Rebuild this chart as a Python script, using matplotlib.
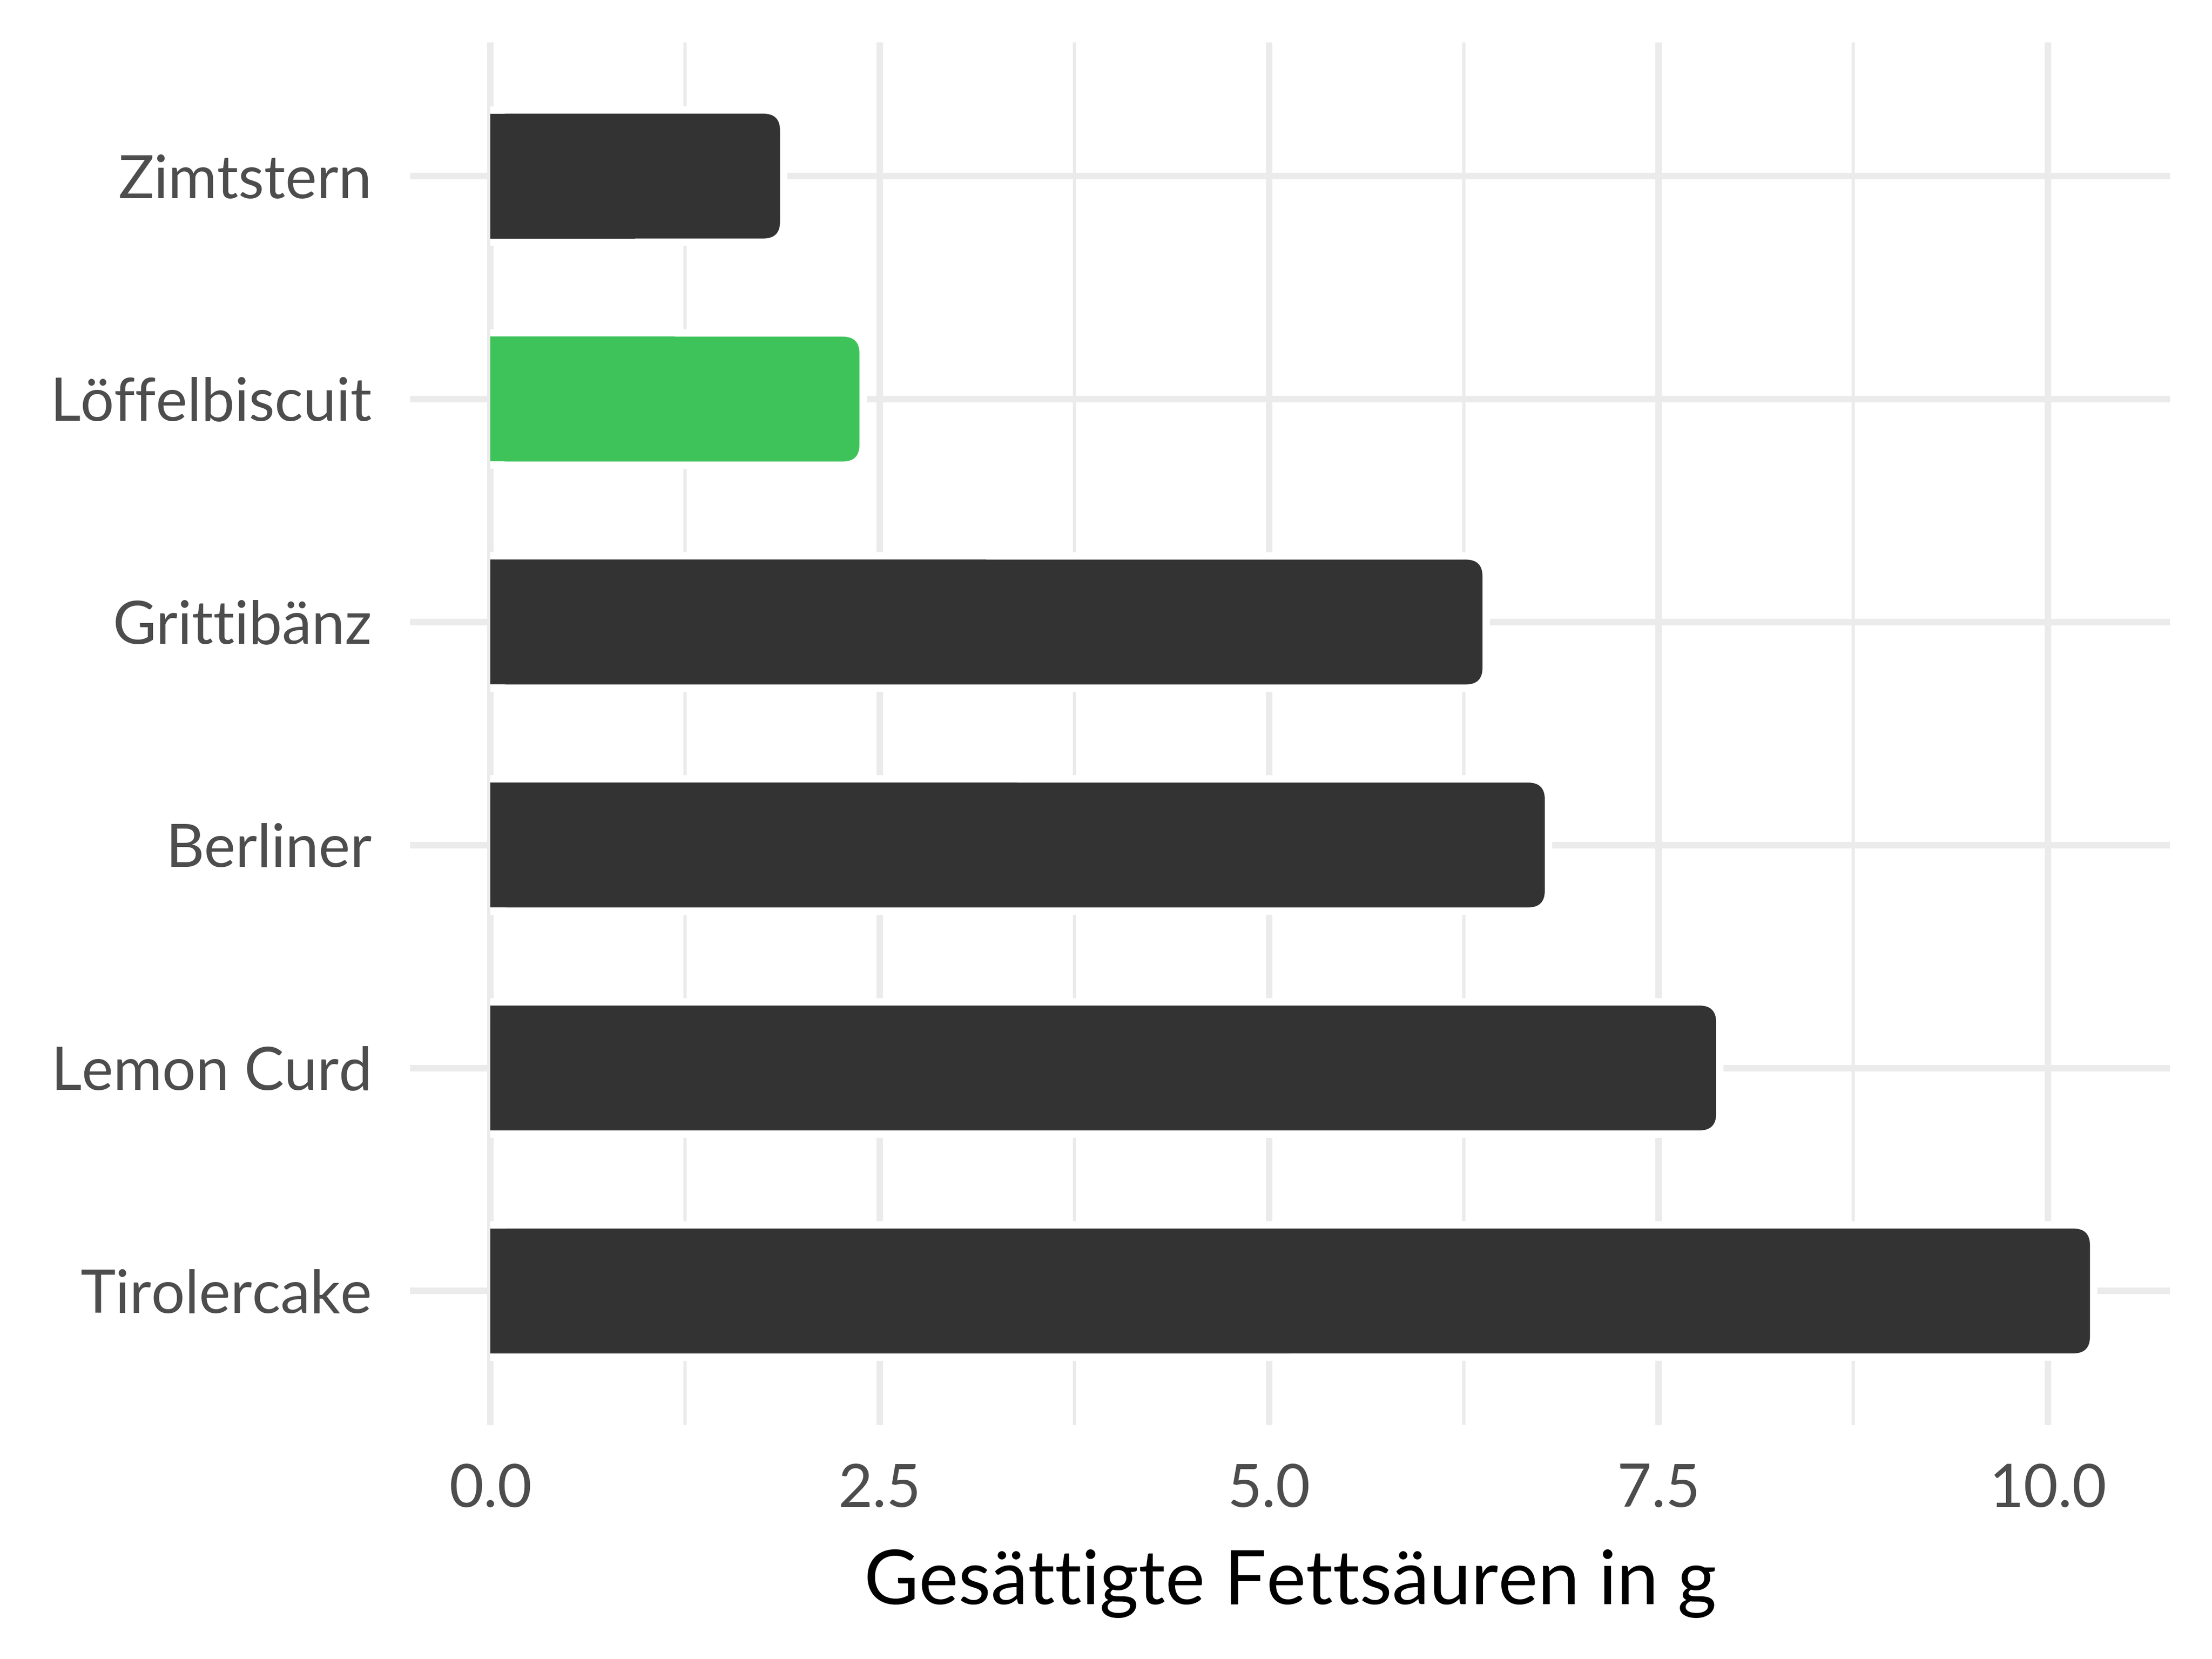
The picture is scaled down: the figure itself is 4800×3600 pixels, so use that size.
import matplotlib
matplotlib.use("Agg")
import matplotlib.pyplot as plt
from matplotlib.patches import FancyBboxPatch, Rectangle
from matplotlib.ticker import FixedLocator

# data, bottom to top
foods = ["Tirolercake", "Lemon Curd", "Berliner", "Grittibänz", "Löffelbiscuit", "Zimtstern"]
fett_g = [10.27, 7.87, 6.77, 6.37, 2.37, 1.86]
bar_colors = ["#333333", "#333333", "#333333", "#333333", "#3EC35A", "#333333"]
x_ticks = [0.0, 2.5, 5.0, 7.5, 10.0]
x_minor = [1.25, 3.75, 6.25, 8.75]
x_tick_labels = ["0.0", "2.5", "5.0", "7.5", "10.0"]

plt.rcParams["font.family"] = ["Lato", "DejaVu Sans"]

W, H, DPI = 16, 12, 300
fig = plt.figure(figsize=(W, H), dpi=DPI)
ax_rect = [0.1855, 0.1412, 0.7955, 0.8333]
ax = fig.add_axes(ax_rect)

xmax = max(fett_g)
x0, x1 = -0.05 * xmax, 1.05 * xmax
y0, y1 = -0.6, len(foods) - 0.4
ax.set_xlim(x0, x1)
ax.set_ylim(y0, y1)

# pixels per data unit, to keep the corners round
xpu = ax_rect[2] * W * DPI / (x1 - x0)
ypu = ax_rect[3] * H * DPI / (y1 - y0)
aspect = xpu / ypu

bar_h = 0.56
r_px, pad_px = 36, 16
r_x = r_px / xpu
pad_x = pad_px / xpu
pad_y = pad_px / ypu

for i, (v, c) in enumerate(zip(fett_g, bar_colors)):
    yb = i - bar_h / 2
    # white halo that cuts the grid around the bar
    ax.add_patch(FancyBboxPatch(
        (pad_x, yb), v - pad_x, bar_h,
        boxstyle=f"round,pad={pad_x},rounding_size={r_x + pad_x}",
        mutation_aspect=aspect, fc="white", ec="none", zorder=2,
    ))
    ax.add_patch(Rectangle((0, yb - pad_y), v / 2, bar_h + 2 * pad_y,
                           fc="white", ec="none", zorder=2))
    ax.add_patch(FancyBboxPatch(
        (0, yb), v, bar_h,
        boxstyle=f"round,pad=0,rounding_size={r_x}",
        mutation_aspect=aspect, fc=c, ec="none", zorder=3,
    ))
    ax.add_patch(Rectangle((0, yb), v / 2, bar_h, fc=c, ec="none", zorder=3))

ax.set_yticks(range(len(foods)))
ax.set_yticklabels(foods)
ax.set_xticks(x_ticks)
ax.set_xticklabels(x_tick_labels)
ax.xaxis.set_minor_locator(FixedLocator(x_minor))

ax.set_axisbelow(True)
ax.grid(True, which="major", color="#EBEBEB", linewidth=3.4, zorder=0)
ax.grid(True, which="minor", axis="x", color="#EBEBEB", linewidth=1.7, zorder=0)
for s in ax.spines.values():
    s.set_visible(False)

ax.tick_params(axis="both", which="both", length=0, labelcolor="#4D4D4D", labelsize=31)
ax.tick_params(axis="x", pad=20)
ax.tick_params(axis="y", pad=20)

ax.set_xlabel("Gesättigte Fettsäuren in g", fontsize=39, color="black")
ax.xaxis.set_label_coords(0.5, -0.115)
ax.xaxis.label.set_va("center")

fig.savefig("out.png", dpi=DPI)
plt.close(fig)
